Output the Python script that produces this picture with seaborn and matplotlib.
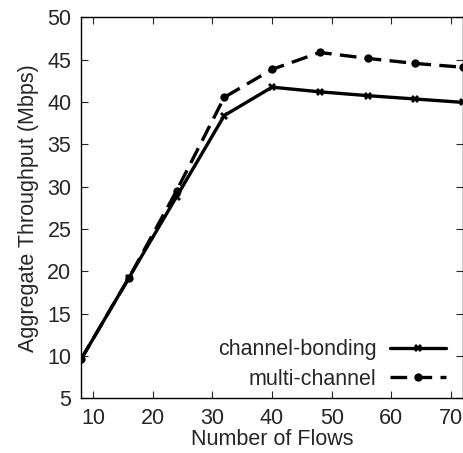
import numpy as np
import pandas as pd
import matplotlib
matplotlib.use('Agg')
import matplotlib.pyplot as plt
import seaborn as sns

sns.set_style('ticks')
plt.rcParams['font.family'] = ['Liberation Sans', 'DejaVu Sans']

flows = [8, 16, 24, 32, 40, 48, 56, 64, 72]
bonding = [9.6, 19.2, 28.8, 38.4, 41.75, 41.2, 40.75, 40.35, 39.95]
multi = [9.6, 19.2, 29.5, 40.55, 43.85, 45.85, 45.15, 44.55, 44.1]

df = pd.DataFrame({
    'flows': flows * 2,
    'tput': bonding + multi,
    'scheme': ['channel-bonding'] * len(flows) + ['multi-channel'] * len(flows),
})

fs = 15.5
fig = plt.figure(figsize=(4.64, 4.53), dpi=100)
ax = fig.add_axes([0.1746, 0.1207, 0.8234, 0.8411])

sns.lineplot(data=df, x='flows', y='tput', hue='scheme', style='scheme',
             palette=['black', 'black'],
             dashes={'channel-bonding': '', 'multi-channel': (5, 2.5)},
             markers={'channel-bonding': 'X', 'multi-channel': 'o'},
             markersize=6, markeredgewidth=0, linewidth=2.4, ax=ax)

ax.set_xlim(8, 72)
ax.set_ylim(5, 50)
ax.set_xticks(range(10, 71, 10))
ax.set_yticks(range(5, 51, 5))
ax.tick_params(direction='in', length=5, width=0.8, top=True, right=True,
               labelsize=fs, pad=7)
for s in ax.spines.values():
    s.set_linewidth(1.0)
    s.set_color('black')

ax.set_xlabel('Number of Flows', fontsize=fs, labelpad=0)
ax.set_ylabel('Aggregate Throughput (Mbps)', fontsize=fs, labelpad=6)

ax.legend(loc='lower right', frameon=False, markerfirst=False, fontsize=fs,
          handlelength=2.6, handletextpad=0.6, labelspacing=0.4,
          borderaxespad=0.0, bbox_to_anchor=(0.977, 0.0))

fig.savefig('out.png', dpi=100)
